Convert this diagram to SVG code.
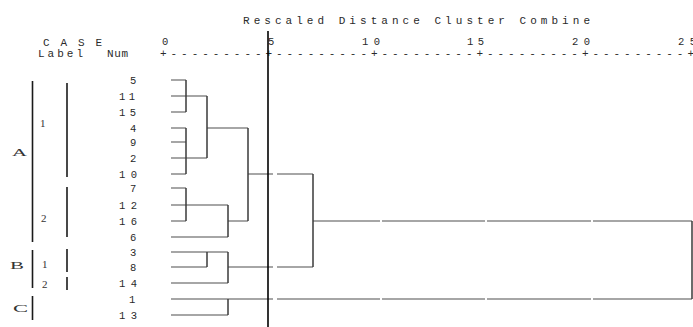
<svg xmlns="http://www.w3.org/2000/svg" width="693" height="327" viewBox="0 0 693 327">
<style>
  text { font-family: "Liberation Mono", "DejaVu Sans Mono", monospace; fill: #2a2a2a; }
  .hd { font-size: 11px; }
  .ax { font-size: 10.5px; }
  .num { font-size: 10.5px; }
  .lbl { font-size: 11px; font-family: "Liberation Serif", serif; fill: #333; }
  .h { stroke: #a6a6a6; stroke-width: 2; fill: none; }
  .v { stroke: #3a3a3a; stroke-width: 1.5; fill: none; }
  .bar { stroke: #1a1a1a; stroke-width: 1.6; fill: none; }
</style>
<rect width="693" height="327" fill="#fff"/>

<g id="header">
  <text class="hd" x="243" y="24" textLength="347">Rescaled Distance Cluster Combine</text>
  <text class="hd" x="43" y="46" textLength="59">C A S E</text>
  <text class="hd" x="38" y="57" textLength="45">Label</text>
  <text class="hd" x="107" y="57" textLength="21">Num</text>
  <text class="ax" x="162" y="45">0</text>
  <text class="ax" x="268" y="45">5</text>
  <text class="ax" x="362" y="45" textLength="18">10</text>
  <text class="ax" x="467" y="45" textLength="17">15</text>
  <text class="ax" x="572" y="45" textLength="18">20</text>
  <text class="ax" x="678" y="45" textLength="18">25</text>
  <text class="hd" x="160" y="57" textLength="534">+---------+---------+---------+---------+---------+</text>
</g>

<g id="case-labels">
  <g id="group-A">
    <text class="lbl" x="12" y="156" textLength="15" lengthAdjust="spacingAndGlyphs">A</text>
    <line class="bar" x1="32.5" y1="81" x2="32.5" y2="242"/>
    <text class="lbl" x="40" y="127">1</text>
    <line class="bar" x1="67" y1="83" x2="67" y2="177"/>
    <text class="lbl" x="41" y="222">2</text>
    <line class="bar" x1="67" y1="187" x2="67" y2="237"/>
  </g>
  <g id="group-B">
    <text class="lbl" x="10" y="269" textLength="14" lengthAdjust="spacingAndGlyphs">B</text>
    <line class="bar" x1="32.5" y1="250" x2="32.5" y2="288"/>
    <text class="lbl" x="42" y="268">1</text>
    <line class="bar" x1="67" y1="249" x2="67" y2="272"/>
    <text class="lbl" x="42" y="288">2</text>
    <line class="bar" x1="67" y1="277" x2="67" y2="290"/>
  </g>
  <g id="group-C">
    <text class="lbl" x="13" y="312" textLength="15" lengthAdjust="spacingAndGlyphs">C</text>
    <line class="bar" x1="32.5" y1="296" x2="32.5" y2="320"/>
  </g>
</g>

<g id="leaves">
  <text class="num" x="130" y="84">5</text>
  <text class="num" x="119" y="100" textLength="16">11</text>
  <text class="num" x="119" y="116" textLength="17">15</text>
  <text class="num" x="130" y="132">4</text>
  <text class="num" x="130" y="146">9</text>
  <text class="num" x="130" y="162">2</text>
  <text class="num" x="119" y="178" textLength="18">10</text>
  <text class="num" x="130" y="192">7</text>
  <text class="num" x="119" y="209" textLength="18">12</text>
  <text class="num" x="119" y="225" textLength="18">16</text>
  <text class="num" x="130" y="241">6</text>
  <text class="num" x="130" y="256">3</text>
  <text class="num" x="130" y="271">8</text>
  <text class="num" x="119" y="287" textLength="18">14</text>
  <text class="num" x="129" y="303">1</text>
  <text class="num" x="119" y="319" textLength="18">13</text>
</g>

<g id="connectors">
  <g class="h">
    <line x1="171" y1="80" x2="186" y2="80"/>
    <line x1="171" y1="96" x2="207" y2="96"/>
    <line x1="171" y1="112" x2="186" y2="112"/>
    <line x1="171" y1="128" x2="186" y2="128"/>
    <line x1="207" y1="128" x2="248" y2="128"/>
    <line x1="171" y1="142" x2="186" y2="142"/>
    <line x1="171" y1="158" x2="207" y2="158"/>
    <line x1="171" y1="174" x2="186" y2="174"/>
    <line x1="248" y1="174" x2="273" y2="174"/>
    <line x1="277" y1="174" x2="313" y2="174"/>
    <line x1="171" y1="188" x2="186" y2="188"/>
    <line x1="171" y1="205" x2="228" y2="205"/>
    <line x1="171" y1="221" x2="186" y2="221"/>
    <line x1="228" y1="221" x2="248" y2="221"/>
    <line x1="313" y1="221" x2="380" y2="221"/>
    <line x1="382" y1="221" x2="485" y2="221"/>
    <line x1="487" y1="221" x2="591" y2="221"/>
    <line x1="593" y1="221" x2="692" y2="221"/>
    <line x1="171" y1="237" x2="228" y2="237"/>
    <line x1="171" y1="252" x2="228" y2="252"/>
    <line x1="171" y1="267" x2="207" y2="267"/>
    <line x1="228" y1="267" x2="273" y2="267"/>
    <line x1="277" y1="267" x2="313" y2="267"/>
    <line x1="171" y1="283" x2="228" y2="283"/>
    <line x1="171" y1="299" x2="273" y2="299"/>
    <line x1="277" y1="299" x2="380" y2="299"/>
    <line x1="382" y1="299" x2="485" y2="299"/>
    <line x1="487" y1="299" x2="591" y2="299"/>
    <line x1="593" y1="299" x2="692" y2="299"/>
    <line x1="171" y1="315" x2="228" y2="315"/>
  </g>
  <g class="v">
    <line x1="186" y1="80" x2="186" y2="112"/>
    <line x1="186" y1="128" x2="186" y2="174"/>
    <line x1="207" y1="96" x2="207" y2="158"/>
    <line x1="186" y1="188" x2="186" y2="221"/>
    <line x1="228" y1="205" x2="228" y2="237"/>
    <line x1="248" y1="128" x2="248" y2="221"/>
    <line x1="207" y1="252" x2="207" y2="267"/>
    <line x1="228" y1="252" x2="228" y2="283"/>
    <line x1="313" y1="174" x2="313" y2="267"/>
    <line x1="692" y1="221" x2="692" y2="299"/>
    <line x1="228" y1="299" x2="228" y2="315"/>
  </g>
</g>

<g id="cut-line">
  <line x1="268" y1="31" x2="268" y2="327" stroke="#000" stroke-width="1.6"/>
</g>
</svg>
